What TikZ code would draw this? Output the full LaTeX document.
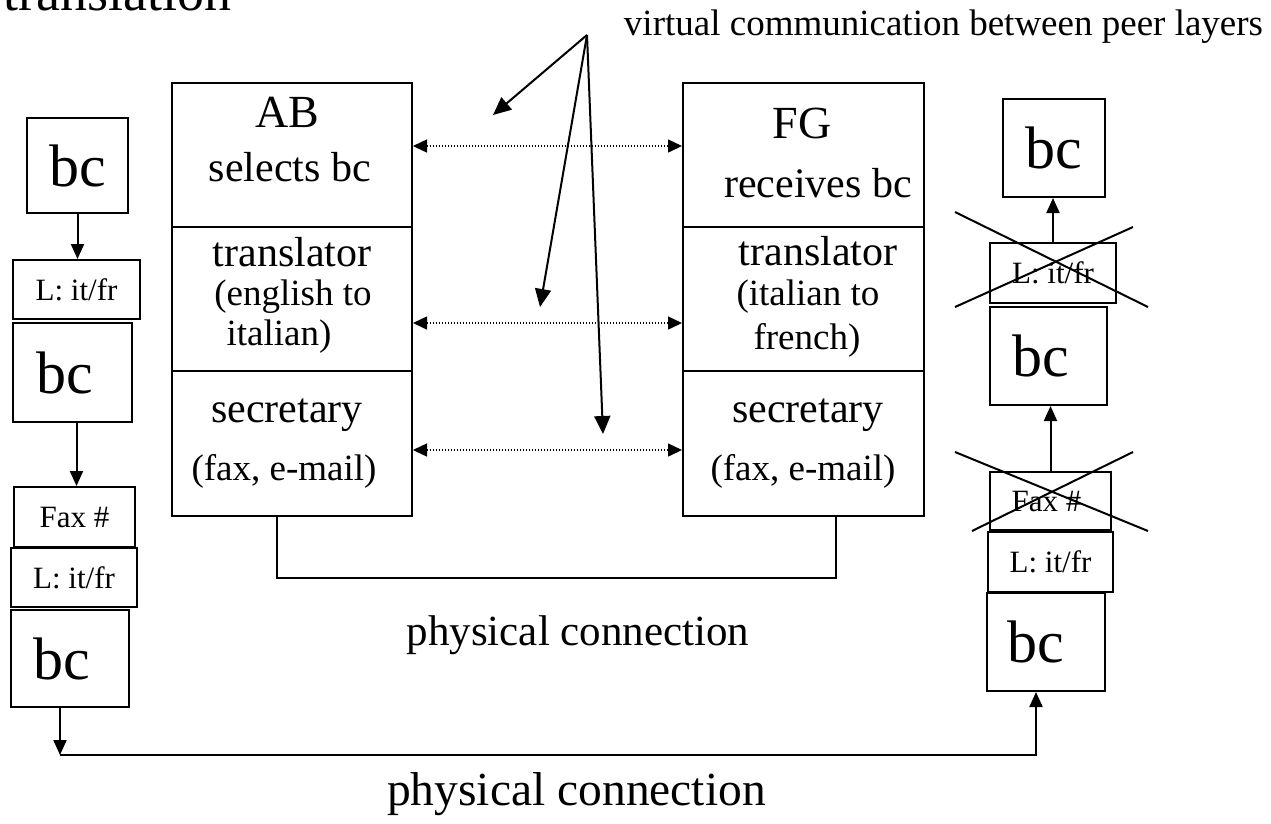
\documentclass[tikz,border=0pt]{standalone}
\usepackage{fontspec}
\setmainfont{Liberation Serif}
\usetikzlibrary{arrows.meta}
\begin{document}
\begin{tikzpicture}[x=1pt,y=-1pt,
  box/.style 2 args={draw, line width=2pt, inner sep=0pt, minimum width=#1pt, minimum height=#2pt},
  bigtxt/.style={font=\fontsize{60}{60}\selectfont},
  smalltxt/.style={font=\fontsize{31}{31}\selectfont},
  midtxt/.style={font=\fontsize{42}{42}\selectfont, anchor=base},
  partxt/.style={font=\fontsize{37}{37}\selectfont, anchor=base},
  headtxt/.style={font=\fontsize{46}{46}\selectfont, anchor=base},
  arr/.style={line width=2pt, -{Triangle[length=15pt,width=13pt]}},
  bigarr/.style={line width=2pt, -{Triangle[length=18pt,width=16pt]}},
  dotarr/.style={line width=1.5pt, dash pattern=on 1.5pt off 1.5pt,
     {Triangle[length=14pt,width=13pt]}-{Triangle[length=14pt,width=13pt]}},
  crossline/.style={line width=2pt},
  plain/.style={line width=2pt}]
\useasboundingbox (0,0) rectangle (1271,823);

% titles
\node[anchor=base west, font=\fontsize{54}{54}\selectfont, inner sep=0pt] (title) at (3,10) {translation};
\node[anchor=base, font=\fontsize{37}{37}\selectfont, inner sep=0pt] (virt) at (943.5,35) {virtual communication between peer layers};

% main stacks
\node[box={240}{144}] (ABa) at (292,155) {};
\node[box={240}{144}] (ABb) at (292,299) {};
\node[box={240}{145}] (ABc) at (292,443.5) {};
\node[box={241}{144}] (FGa) at (803.5,155) {};
\node[box={241}{144}] (FGb) at (803.5,299) {};
\node[box={241}{145}] (FGc) at (803.5,443.5) {};

\node[headtxt] (tAB) at (287,127) {AB};
\node[midtxt] (tsel) at (290,181) {selects bc};
\node[midtxt] (ttr1) at (292,266) {translator};
\node[partxt] (ten) at (293,305) {(english to};
\node[partxt] (tit) at (279,345) {italian)};
\node[midtxt] (tsec1) at (287,422) {secretary};
\node[partxt] (tfax1) at (284,480) {(fax, e-mail)};

\node[headtxt] (tFG) at (802,138) {FG};
\node[midtxt] (trec) at (818,197) {receives bc};
\node[midtxt] (ttr2) at (818,265) {translator};
\node[partxt] (tita) at (808,305) {(italian to};
\node[partxt] (tfr) at (807,349) {french)};
\node[midtxt] (tsec2) at (808,422) {secretary};
\node[partxt] (tfax2) at (803,480) {(fax, e-mail)};

% virtual comm dotted arrows
\draw[dotarr] ([yshift=9pt]ABa.east) -- ([yshift=9pt]FGa.west);
\draw[dotarr] ([yshift=-24pt]ABb.east) -- ([yshift=-24pt]FGb.west);
\draw[dotarr] ([yshift=-6.5pt]ABc.east) -- ([yshift=-6.5pt]FGc.west);

% pointer arrows
\coordinate (v) at (587,35);
\coordinate (t1) at (493,115);
\coordinate (t2) at (540,307);
\coordinate (t3) at (603,434);
\draw[bigarr] (v) -- (t1);
\draw[bigarr] (v) -- (t2);
\draw[bigarr] (v) -- (t3);

% physical connection between stacks
\coordinate (pa) at (277,578);
\coordinate (pb) at (836,578);
\draw[plain] (pa |- ABc.south) -- (pa) -- (pb) -- (pb |- FGc.south);
\node[anchor=base, font=\fontsize{43}{43}\selectfont, inner sep=0pt] (phys1) at (578,645) {physical connection};

% left column
\node[box={101}{95}, bigtxt] (bc1) at (77.5,165.5) {bc};
\node[box={127}{59}, smalltxt] (L1) at (76.5,289.5) {L: it/fr};
\node[box={119}{99}, bigtxt] (bc2) at (72.5,372.5) {bc\hspace*{16pt}};
\node[box={121}{60}, smalltxt] (F1) at (74.5,517) {Fax \#};
\node[box={126}{59}, smalltxt] (L2) at (74,577.5) {L: it/fr};
\node[box={118}{97}, bigtxt] (bc3) at (70,658.5) {bc\hspace*{16pt}};

\draw[arr] (bc1.south) -- (bc1.south |- L1.north);
\draw[arr] ([xshift=4pt]bc2.south) -- ([xshift=4pt]bc2.south |- F1.north);

% right column
\node[box={102}{98}, bigtxt] (r1) at (1054,148) {bc};
\node[box={126}{60}, smalltxt] (r2) at (1053,273) {L: it/fr};
\node[box={117}{98}, bigtxt] (r3) at (1048.5,356) {bc\hspace*{16pt}};
\node[box={121}{58}, smalltxt] (r4) at (1050.5,501) {Fax \#\hspace*{8pt}};
\node[box={125}{60}, smalltxt] (r5) at (1050.5,562) {L: it/fr};
\node[box={118}{98}, bigtxt] (r6) at (1046,642) {bc\hspace*{20pt}};

\draw[arr] (r2.north) -- (r2.north |- r1.south);
\draw[arr] (r4.north) -- (r4.north |- r3.south);

\draw[crossline] (955,212) -- (1148,307);
\draw[crossline] (955,307) -- (1133,227);
\draw[crossline] (955,452) -- (1148,531);
\draw[crossline] (972,531) -- (1133,452);

% bottom physical connection
\coordinate (c1) at (60,755);
\coordinate (c2) at (1036,755);
\draw[arr] (bc3.south -| c1) -- (c1);
\draw[arr] (c1) -- (c2) -- (c2 |- r6.south);
\node[anchor=base, font=\fontsize{47.5}{47.5}\selectfont, inner sep=0pt] (phys2) at (576.5,805) {physical connection};
\end{tikzpicture}
\end{document}
